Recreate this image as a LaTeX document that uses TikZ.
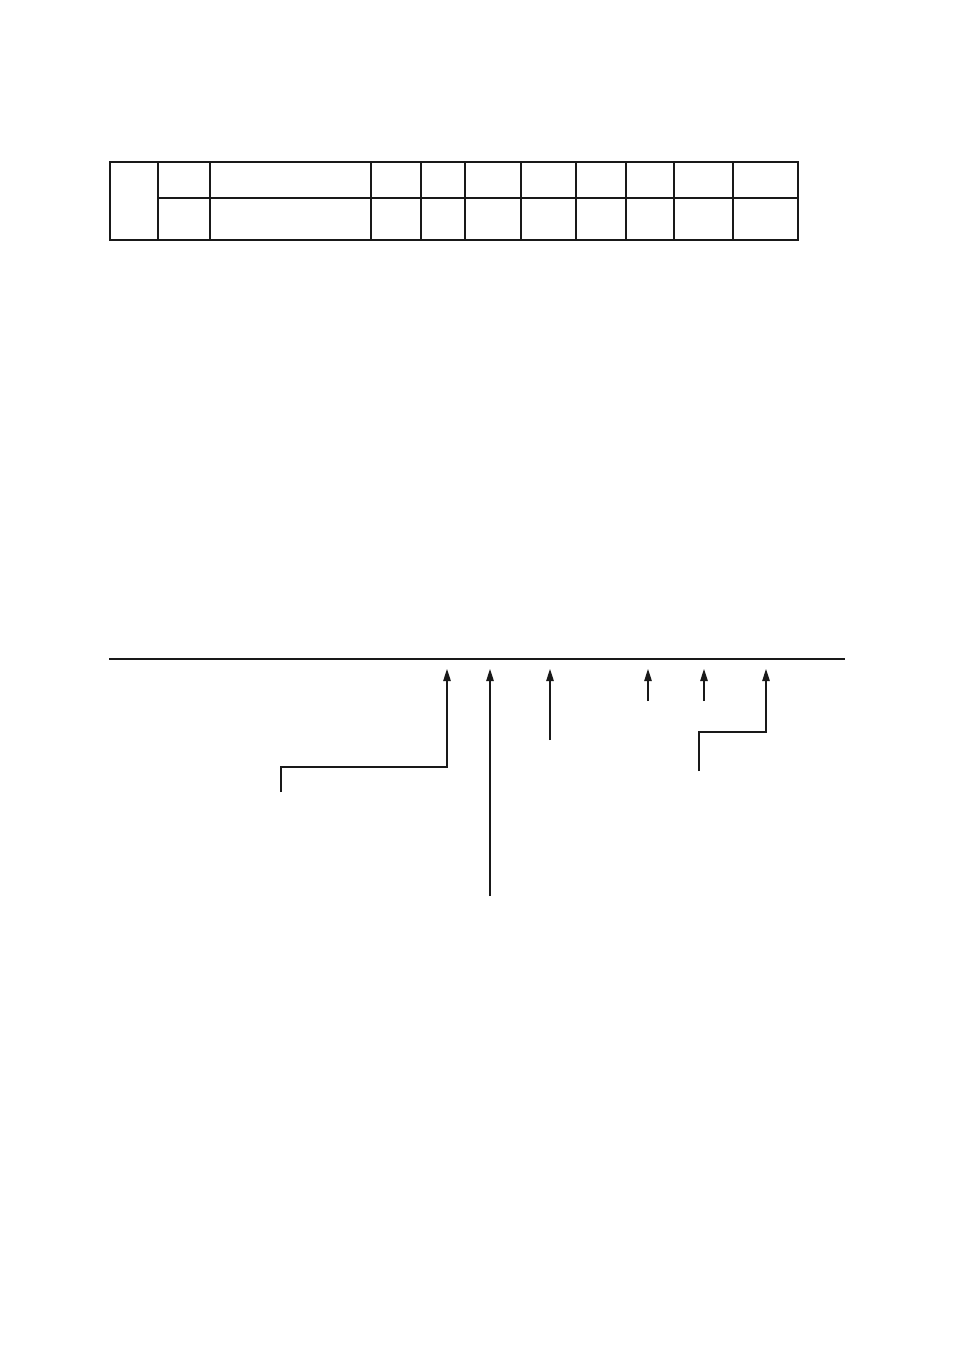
\documentclass[tikz,border=0pt]{standalone}
\usetikzlibrary{arrows.meta}

\begin{document}
\begin{tikzpicture}[
x=0.02cm, y=-0.02cm,
grid/.style={line width=1.1pt, black!90},
baseline/.style={line width=0.8pt, black!90},
pointer/.style={line width=0.6pt, black!90, -{Triangle[length=0.24cm, width=0.15cm]}},
]
\useasboundingbox (0,0) rectangle (954,1351);
\draw[grid] (110,162) rectangle (798,240);
\draw[grid] (158,198) -- (798,198);
\foreach \x in {158,210,371,421,465,521,576,626,674,733}
  \draw[grid] (\x,162) -- (\x,240);
\draw[baseline] (109,659) -- (845,659);
\coordinate (tipA) at (447,669);
\coordinate (tipB) at (490,669);
\coordinate (tipC) at (550,669);
\coordinate (tipD) at (648,669);
\coordinate (tipE) at (704,669);
\coordinate (tipF) at (766,669);
\coordinate (footA) at (281,792);
\coordinate (footB) at (490,896);
\coordinate (footC) at (550,740);
\coordinate (footD) at (648,701);
\coordinate (footE) at (704,701);
\coordinate (footF) at (699,771);
\draw[pointer] (footA) |- (447,767) -- (tipA);
\draw[pointer] (footB) -- (tipB);
\draw[pointer] (footC) -- (tipC);
\draw[pointer] (footD) -- (tipD);
\draw[pointer] (footE) -- (tipE);
\draw[pointer] (footF) |- (766,732) -- (tipF);
\end{tikzpicture}
\end{document}
